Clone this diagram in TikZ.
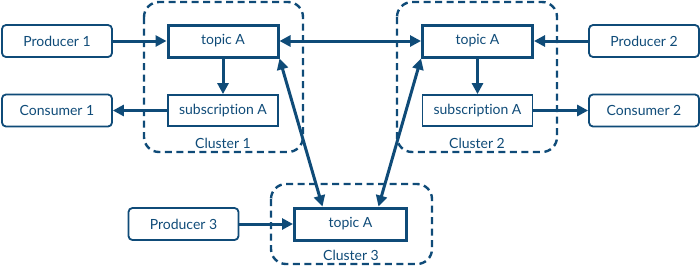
\documentclass[tikz,border=0pt]{standalone}
\usepackage{fontspec}
\setmainfont{Lato}[Ligatures=NoCommon]
\usetikzlibrary{arrows.meta}
\definecolor{navy}{RGB}{15,75,120}
\begin{document}
\begin{tikzpicture}[x=1pt,y=-1pt,
  every node/.style={font=\fontsize{14}{16}\selectfont, text=navy},
  cluster/.style={draw=navy, line width=2.4pt, dash pattern=on 7pt off 4.5pt, rounded corners=15pt},
  endbox/.style={draw=navy, line width=1.8pt, rounded corners=4pt, minimum width=110pt, minimum height=32pt, inner sep=0pt},
  topicbox/.style={draw=navy, line width=3pt, minimum width=110pt, minimum height=32pt, inner sep=0pt},
  subbox/.style={draw=navy, line width=1.8pt, minimum width=110pt, minimum height=31pt, inner sep=0pt},
  tip/.style={},
  flow/.style={draw=navy, line width=3pt, -{Triangle[length=11pt,width=11pt]}},
  both/.style={draw=navy, line width=3pt, {Triangle[length=11pt,width=11pt]}-{Triangle[length=11pt,width=11pt]}},
  lbl/.style={inner sep=0pt}
]
\useasboundingbox (0,0) rectangle (700,266);
% clusters
\draw[cluster] (144,2) rectangle (303,152);
\draw[cluster] (397,2) rectangle (557,152);
\draw[cluster] (271,184) rectangle (432,264);
\node[lbl] (c1) at (223,143) {Cluster 1};
\node[lbl] (c2) at (477,143) {Cluster 2};
\node[lbl] (c3) at (351,255) {Cluster 3};
% boxes
\node[endbox] (p1) at (57,41) {Producer 1};
\node[endbox] (k1) at (57,110.5) {Consumer 1};
\node[topicbox] (t1) at (223,41) {topic A};
\node[subbox] (s1) at (223,110.5) {subscription A};
\node[topicbox] (t2) at (477.5,41) {topic A};
\node[subbox] (s2) at (477.5,110.5) {subscription A};
\node[endbox] (p2) at (644,41) {Producer 2};
\node[endbox] (k2) at (644,110.5) {Consumer 2};
\node[topicbox, minimum width=112pt] (t3) at (350.5,224) {topic A};
\node[endbox] (p3) at (183.5,224) {Producer 3};
% connectors
\draw[flow] (p1) -- (t1);
\draw[flow] (p2) -- (t2);
\draw[flow] (p3) -- (t3);
\draw[flow] (t1) -- (s1);
\draw[flow] (t2) -- (s2);
\draw[flow] (s1) -- (k1);
\draw[flow] (s2) -- (k2);
\draw[both] (t1) -- (t2);
\draw[both] (t1.south east) -- ([xshift=-28pt]t3.north);
\draw[both] (t2.south west) -- ([xshift=28pt]t3.north);
\end{tikzpicture}
\end{document}
